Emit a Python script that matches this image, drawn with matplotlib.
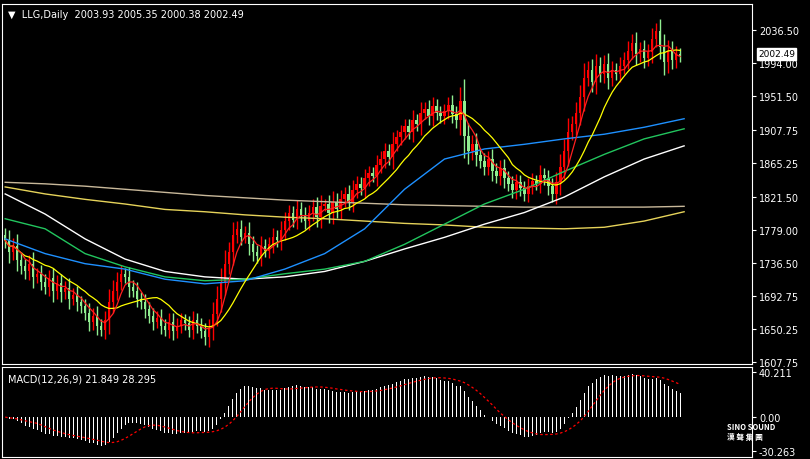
import numpy as np
import pandas as pd
import matplotlib
matplotlib.use("Agg")
import matplotlib.pyplot as plt

# daily closes
closes = [1765,1750,1758,1740,1732, 1725,1735,1718,1722,1712,
          1705,1716,1700,1710,1698, 1704,1690,1695,1685,1680,
          1672,1660,1668,1655,1650, 1662,1685,1700,1712,1722,
          1718,1705,1700,1690,1685, 1676,1668,1660,1665,1655,
          1650,1660,1648,1655,1662, 1658,1650,1662,1655,1648,
          1640,1652,1670,1690,1712, 1735,1750,1772,1780,1770,
          1775,1760,1750,1745,1758, 1752,1760,1770,1765,1778,
          1790,1800,1792,1805,1798, 1790,1800,1808,1795,1810,
          1812,1800,1815,1805,1818, 1825,1815,1830,1838,1832,
          1845,1852,1848,1862,1870, 1880,1872,1890,1898,1905,
          1912,1905,1920,1915,1930, 1935,1925,1938,1930,1925,
          1932,1940,1928,1920,1945, 1900,1880,1890,1875,1868,
          1860,1870,1855,1848,1858, 1845,1838,1830,1840,1832,
          1825,1835,1842,1838,1850, 1845,1835,1825,1840,1860,
          1880,1905,1915,1930,1950, 1975,1985,1970,1990,1980,
          1992,1975,1985,1980,1990, 1998,2010,2020,2005,2012,
          2000,2008,2025,2035,2015, 1995,2010,1998,2006,2002.49]
first_open = 1772

# long moving averages sampled every 10 bars
ma_idx = list(range(0, 171, 10))
ma_tan = [1840,1838,1835,1831,1827,1823,1820,1817,1815,1813,1811,1810,1809,1808,1808,1808,1808,1809]
ma_pale = [1834,1825,1818,1812,1805,1802,1798,1795,1793,1790,1787,1785,1782,1781,1780,1782,1790,1802]
ma_white = [1825,1799,1767,1741,1725,1718,1715,1718,1725,1738,1754,1769,1786,1801,1821,1847,1870,1887]
ma_green = [1793,1780,1748,1731,1718,1713,1715,1722,1728,1738,1760,1786,1812,1831,1854,1876,1896,1909]
ma_blue = [1767,1748,1735,1728,1715,1709,1713,1728,1748,1780,1831,1870,1883,1889,1896,1902,1911,1922]

price_ticks = [2036.50,1994.00,1951.50,1907.75,1865.25,1821.50,1779.00,1736.50,1692.75,1650.25,1607.75]

c = np.array(closes, dtype=float)
o = np.concatenate([[first_open], c[:-1]])
n = len(c)
x = np.arange(n)
span = np.abs(c - o)
hi = np.maximum(o, c) + 6 + 0.5 * span
lo = np.minimum(o, c) - 6 - 0.5 * span

s = pd.Series(c)
ma5 = s.rolling(5, min_periods=1).mean()
ma13 = s.rolling(13, min_periods=1).mean()
ema12 = s.ewm(span=12, adjust=False).mean()
ema26 = s.ewm(span=26, adjust=False).mean()
macd = (ema12 - ema26) * 1.1
sig = macd.rolling(9, min_periods=1).mean()

fig = plt.figure(figsize=(8.1, 4.6), dpi=100, facecolor="black")
ax = fig.add_axes([2/810, 1 - 365/460, 750/810, 360/460], facecolor="black")
ax2 = fig.add_axes([2/810, 1 - 458/460, 750/810, 90/460], facecolor="black")

up = c >= o
for i in range(n):
    col = "#ff0000" if up[i] else "#90ee90"
    ax.vlines(x[i], lo[i], hi[i], color=col, lw=1)
    b0, b1 = min(o[i], c[i]), max(o[i], c[i])
    ax.bar(x[i], max(b1 - b0, 0.8), bottom=b0, width=0.6, color=col, lw=0)

ax.plot(ma_idx, ma_tan, color="#c8b89a", lw=1)
ax.plot(ma_idx, ma_pale, color="#e6d35a", lw=1)
ax.plot(ma_idx, ma_white, color="white", lw=1)
ax.plot(ma_idx, ma_green, color="#22c55e", lw=1)
ax.plot(ma_idx, ma_blue, color="#1e90ff", lw=1)
ax.plot(x, ma13, color="yellow", lw=0.9)
ax.plot(x, ma5, color="#ff2020", lw=0.9)

ax.set_xlim(-0.8, 187)
ax.set_ylim(1605.6, 2070)
ax.yaxis.tick_right()
ax.set_yticks(price_ticks)
ax.set_yticklabels([f"{t:.2f}" for t in price_ticks])
ax.set_xticks([])
for a in (ax, ax2):
    for sp in a.spines.values():
        sp.set_color("white")
    a.tick_params(axis="y", colors="white", labelsize=7, length=3, pad=2)
ax.text(0.008, 0.985, "\u25bc  LLG,Daily  2003.93 2005.35 2000.38 2002.49", transform=ax.transAxes,
        color="white", fontsize=7, va="top")
ax.text(1.008, (2005.5 - 1605.6) / (2070 - 1605.6), "2002.49", transform=ax.transAxes,
        color="black", fontsize=6.5, va="center", clip_on=False, zorder=5,
        bbox=dict(facecolor="white", edgecolor="white", pad=1))

ax2.bar(x, macd, width=0.25, color="white", lw=0)
ax2.plot(x, sig, color="red", lw=0.9, ls=(0, (2, 2)))
ax2.set_xlim(-0.8, 187)
ax2.set_ylim(-35.5, 44.6)
ax2.yaxis.tick_right()
ax2.set_yticks([40.211, 0.0, -30.263])
ax2.set_yticklabels(["40.211", "0.00", "-30.263"])
ax2.set_xticks([])
ax2.text(0.008, 0.93, "MACD(12,26,9) 21.849 28.295", transform=ax2.transAxes,
         color="white", fontsize=7, va="top")
fig.text(0.898, 0.06, "SINO SOUND\n漢 聲 集 團", color="white", fontsize=5.5, fontweight="bold",
         family=["Noto Sans CJK JP", "Noto Sans CJK TC", "Noto Sans CJK SC"], va="center", zorder=10)

fig.savefig("out.png", dpi=100, facecolor="black")
